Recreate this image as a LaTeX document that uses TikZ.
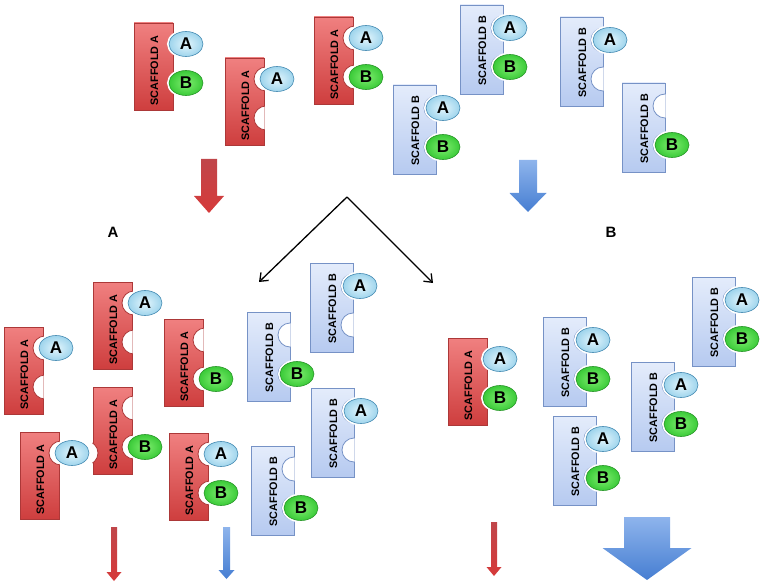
\documentclass[tikz,border=0pt]{standalone}
\usepackage{fontspec}
\setsansfont{Liberation Sans}
\usepackage{tikz}
\usetikzlibrary{shapes.geometric,arrows.meta,positioning}

\definecolor{redtop}{RGB}{240,128,128}
\definecolor{redbot}{RGB}{206,62,62}
\definecolor{redline}{RGB}{172,56,56}
\definecolor{bluetop}{RGB}{228,236,251}
\definecolor{bluebot}{RGB}{182,202,240}
\definecolor{blueline}{RGB}{118,146,198}
\definecolor{ligAin}{RGB}{228,246,253}
\definecolor{ligAout}{RGB}{158,212,236}
\definecolor{ligAline}{RGB}{68,138,178}
\definecolor{ligBin}{RGB}{128,238,112}
\definecolor{ligBout}{RGB}{58,202,56}
\definecolor{ligBline}{RGB}{40,150,40}
\definecolor{arrredtop}{RGB}{192,70,74}
\definecolor{arrredbot}{RGB}{214,58,58}
\definecolor{arrbluetop}{RGB}{142,180,236}
\definecolor{arrbluebot}{RGB}{70,126,210}

% scaffold sizes: width, height, slot A, slot B, ligand shift, notch shift, text shift
\def\redW{39}\def\redH{87}\def\redA{21}\def\redB{60}\def\redL{13}\def\redN{2}\def\redT{4}\def\redName{A}
\def\blueW{43}\def\blueH{89}\def\blueA{23}\def\blueB{62}\def\blueL{7}\def\blueN{0}\def\blueT{1}\def\blueName{B}

\tikzset{
  redscaf/.style={top color=redtop, bottom color=redbot, draw=redline, line width=0.8pt},
  bluescaf/.style={top color=bluetop, bottom color=bluebot, draw=blueline, line width=0.8pt},
  scaftext/.style={font=\sffamily\bfseries\fontsize{10.8}{12}\selectfont, inner sep=0pt},
  ligA/.style={ellipse, minimum width=34pt, minimum height=25pt, inner sep=0pt,
    inner color=ligAin, outer color=ligAout, draw=ligAline, line width=0.6pt,
    preaction={draw=white, line width=4pt},
    font=\sffamily\bfseries\fontsize{17}{17}\selectfont},
  ligB/.style={ligA, inner color=ligBin, outer color=ligBout, draw=ligBline},
  redarr/.style={top color=arrredtop, bottom color=arrredbot},
  bluearr/.style={top color=arrbluetop, bottom color=arrbluebot},
  splitarr/.style={line width=1.3pt, -{Straight Barb[length=7pt, width=11pt]}},
  grouplabel/.style={font=\sffamily\bfseries\fontsize{15}{15}\selectfont}
}

% notch cut into the right edge: #1 left, #2 top, #3 type
\newcommand{\scnotch}[3]{%
  \begin{scope}
    \clip (#1,#2) rectangle ({\scR+0.7},\scBot);
    \fill[white, draw=#3line, line width=0.8pt] ({\scR+\csname #3N\endcsname},\scY) circle[radius=12];
  \end{scope}}

% one slot: #1 name, #2 left, #3 top, #4 type, #5 offset, #6 code (0 none, 1 empty notch, 2 notch+ligand, 3 ligand), #7 letter
\newcommand{\scslot}[7]{%
  \pgfmathsetmacro\scY{#3+#5}
  \ifnum#6=1 \scnotch{#2}{#3}{#4}\fi
  \ifnum#6=2 \scnotch{#2}{#3}{#4}\fi
  \ifnum#6>1 \node[lig#7] (#1) at ({\scR+\csname #4L\endcsname},\scY) {#7};\fi}

% scaffold: #1 name, #2 left, #3 top, #4 red/blue, #5 slot A, #6 slot B
\newcommand{\scaffold}[6]{%
  \pgfmathsetmacro\scR{#2+\csname #4W\endcsname}
  \pgfmathsetmacro\scBot{#3+\csname #4H\endcsname}
  \shade[#4scaf] (#2,#3) rectangle (\scR,\scBot);
  \node[scaftext, rotate=90] (#1) at ({(#2+\scR)/2+1},{(#3+\scBot)/2+\csname #4T\endcsname}) {SCAFFOLD \csname #4Name\endcsname};
  \scslot{#1a}{#2}{#3}{#4}{\csname #4A\endcsname}{#5}{A}
  \scslot{#1b}{#2}{#3}{#4}{\csname #4B\endcsname}{#6}{B}}

% block arrow: #1 style, #2 centre x, #3 top, #4 half shaft, #5 head top, #6 half head, #7 tip
\newcommand{\fatarrow}[7]{%
  \shade[#1] ({#2-#4},#3) -- ({#2+#4},#3) -- ({#2+#4},#5) -- ({#2+#6},#5) -- (#2,#7)
    -- ({#2-#6},#5) -- ({#2-#4},#5) -- cycle;}

\begin{document}
\begin{tikzpicture}[x=1pt, y=-1pt]
    \useasboundingbox (0,0) rectangle (768,588);

    % Top row
    \scaffold{R1}{134}{23}{red}{3}{3}
    \scaffold{R2}{225}{58}{red}{2}{1}
    \scaffold{R3}{314}{17}{red}{2}{2}
    \scaffold{B1}{460}{5}{blue}{2}{2}
    \scaffold{B2}{393}{85}{blue}{2}{2}
    \scaffold{B3}{560}{17}{blue}{2}{1}
    \scaffold{B4}{622}{83}{blue}{1}{2}

    % Top arrows
    \fatarrow{redarr}{209}{159}{8}{196}{15}{213}
    \fatarrow{bluearr}{528}{160}{9}{193}{18.5}{212}

    % Labels
    \node[grouplabel] (labA) at (113,232) {A};
    \node[grouplabel] (labB) at (611,232) {B};

    % Split
    \coordinate (split) at (347,197);
    \coordinate (toA) at (259,282);
    \coordinate (toB) at (433,283);
    \draw[splitarr] (split) -- (toA);
    \draw[splitarr] (split) -- (toB);

    % Bottom left, scaffold A
    \scaffold{R4}{4}{327}{red}{2}{1}
    \scaffold{R5}{93}{282}{red}{2}{1}
    \scaffold{R6}{164}{319}{red}{1}{2}
    \scaffold{R7}{20}{432}{red}{2}{0}
    \scaffold{R8}{93}{387}{red}{1}{2}
    \begin{scope}
        \clip (92.3,387) rectangle (132,474);
        \fill[white, draw=redline, line width=0.8pt] (86,453) circle[radius=12];
    \end{scope}
    \scaffold{R9}{169}{433}{red}{2}{2}

    % Bottom left, scaffold B
    \scaffold{B5}{310}{263}{blue}{2}{1}
    \scaffold{B6}{247}{312}{blue}{1}{2}
    \scaffold{B7}{311}{388}{blue}{2}{1}
    \scaffold{B8}{251}{446}{blue}{1}{2}

    % Bottom right
    \scaffold{R10}{448}{338}{red}{3}{3}
    \scaffold{B9}{543}{317}{blue}{2}{2}
    \scaffold{B10}{553}{416}{blue}{2}{2}
    \scaffold{B11}{631}{362}{blue}{2}{2}
    \scaffold{B12}{692}{277}{blue}{2}{2}

    % Bottom arrows
    \fatarrow{redarr}{114}{527}{3}{572}{7.5}{581}
    \fatarrow{bluearr}{226.5}{527}{3.5}{570}{8}{579}
    \fatarrow{redarr}{494}{522}{3}{567}{7.5}{576}
    \fatarrow{bluearr}{647}{517}{23}{548}{44.5}{580}

\end{tikzpicture}
\end{document}
